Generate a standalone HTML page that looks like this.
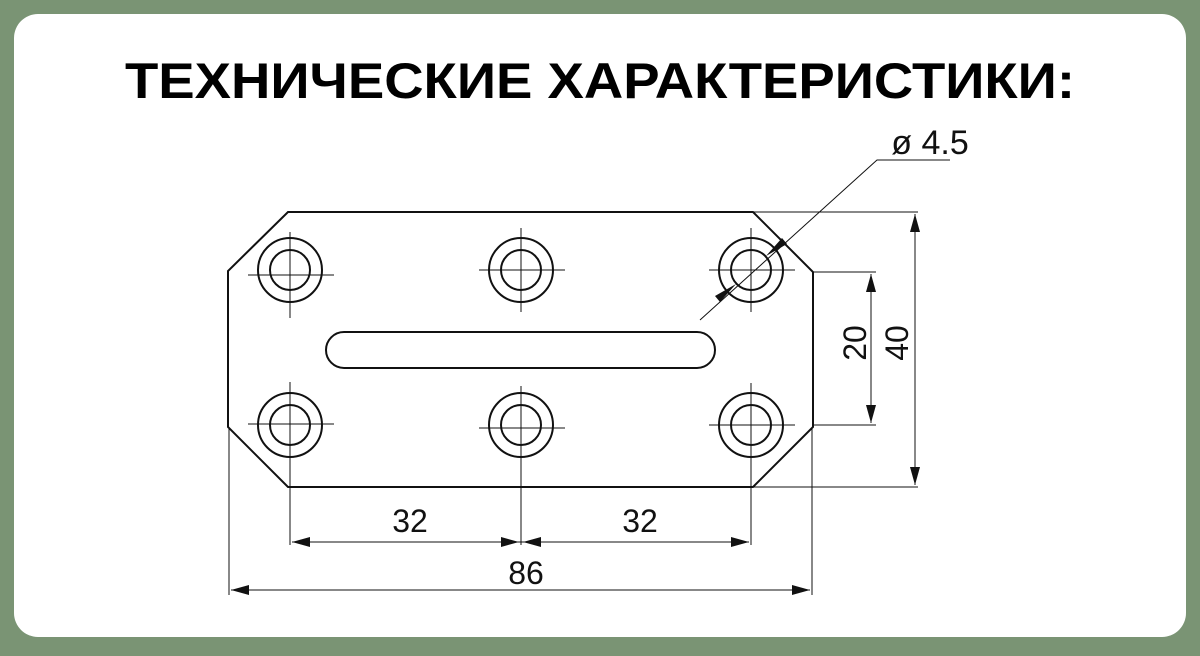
<!DOCTYPE html>
<html><head><meta charset="utf-8"><style>
html,body{margin:0;padding:0;background:#7a9474;}
body{width:1200px;height:651px;overflow:hidden;}
</style></head><body>
<svg width="1200" height="651" xmlns="http://www.w3.org/2000/svg" font-family="Liberation Sans, sans-serif">
<rect x="0" y="0" width="1200" height="651" fill="#7a9474"/>
<rect x="14" y="14" width="1172" height="623" rx="24" fill="#fff"/>
<text x="600" y="98" text-anchor="middle" font-size="50" font-weight="bold" textLength="950" lengthAdjust="spacingAndGlyphs" fill="#000">ТЕХНИЧЕСКИЕ ХАРАКТЕРИСТИКИ:</text>
<g stroke="#111" fill="none">
<polygon points="288,212 753,212 813,272 813,427 753,487 288,487 228,427 228,271" stroke-width="2"/>
<path d="M344,332 H697 A18,18 0 0 1 697,368 H344 A18,18 0 0 1 344,332 Z" stroke-width="2"/>
<g stroke-width="2">
<circle cx="290" cy="270" r="32"/><circle cx="290" cy="270" r="20"/>
<circle cx="521" cy="270" r="32"/><circle cx="521" cy="270" r="20"/>
<circle cx="751" cy="270" r="32"/><circle cx="751" cy="270" r="20"/>
<circle cx="290" cy="425" r="32"/><circle cx="290" cy="425" r="20"/>
<circle cx="521" cy="425" r="32"/><circle cx="521" cy="425" r="20"/>
<circle cx="751" cy="425" r="32"/><circle cx="751" cy="425" r="20"/>
</g>
<g stroke-width="1">
<path d="M248,275 H334 M290,232 V318 M479,270 H565 M521,228 V312 M709,270 H795 M751,228 V312"/>
<path d="M248,424 H334 M290,382 V545 M479,428 H565 M521,386 V545 M709,425 H795 M751,383 V545"/>
<path d="M229,427 V595 M812,427 V595"/>
<path d="M753,212 H918 M753,487 H918 M813,272 H876 M813,425 H876"/>
<path d="M915,214 V485 M871,274 V423"/>
<path d="M292,542 H749 M231,590 H810"/>
<path d="M700,320 L877,160 H950"/>
</g>
</g>
<g fill="#111">
<polygon points="915,214 910,232 920,232"/><polygon points="915,485 910,467 920,467"/>
<polygon points="871,274 866,292 876,292"/><polygon points="871,423 866,405 876,405"/>
<polygon points="292,542 310,537 310,547"/><polygon points="519,542 501,537 501,547"/>
<polygon points="523,542 541,537 541,547"/><polygon points="749,542 731,537 731,547"/>
<polygon points="231,590 249,585 249,595"/><polygon points="810,590 792,585 792,595"/>
<polygon points="766,256 782,238 787,244"/><polygon points="736,284 720,302 715,296"/>
</g>
<g font-size="32" fill="#111" text-anchor="middle">
<text x="410" y="532">32</text>
<text x="640" y="532">32</text>
<text x="526" y="584">86</text>
<text x="930" y="154" font-size="34">ø 4.5</text>
<text transform="translate(866,343) rotate(-90)">20</text>
<text transform="translate(908,343) rotate(-90)">40</text>
</g>
</svg>
</body></html>
